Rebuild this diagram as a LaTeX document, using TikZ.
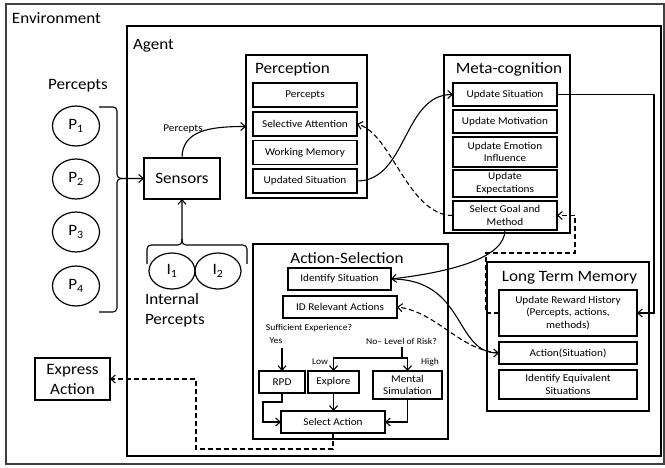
\documentclass[tikz,border=0pt]{standalone}
\usepackage{fontspec}
\setmainfont{Carlito}[FakeStretch=1.08]
\usetikzlibrary{arrows.meta,shapes.geometric,calc}

\begin{document}
\begin{tikzpicture}[x=1pt,y=-1pt,
  >={Straight Barb[length=4.5pt,width=8pt]},
  every node/.style={inner sep=0pt, outer sep=0pt},
  sz/.style 2 args={minimum width=#1, minimum height=#2},
  frame/.style={draw, rectangle, line width=1.2pt},
  big/.style={font=\fontsize{15.8}{20}\selectfont},
  item/.style={draw, rectangle, line width=1.1pt, align=center, font=\fontsize{10.4}{12.8}\selectfont},
  small/.style={font=\fontsize{8.9}{10.5}\selectfont},
  link/.style={line width=1.1pt, ->},
  plain/.style={line width=1.1pt},
  dlink/.style={line width=1.1pt, ->, dash pattern=on 5pt off 3pt},
  percept/.style={draw, ellipse, line width=1.2pt, big},
]
\useasboundingbox (0,0) rectangle (665,468);

% environment and agent frames
\node[frame, draw=black!75, line width=1.3pt, sz={658}{460}] (env) at (335,234) {};
\node[big, anchor=west] (envlbl) at (12,18) {Environment};
\node[frame, line width=2pt, sz={534}{430}] (agent) at (394,241) {};
\node[big, anchor=west] (agentlbl) at (133,46) {Agent};

% external percepts
\node[big] (plbl) at (78,86) {Percepts};
\node[percept, sz={47}{40}] (p1) at (76,126) {P\textsubscript{1}};
\node[percept, sz={47}{40}] (p2) at (76,179) {P\textsubscript{2}};
\node[percept, sz={47}{40}] (p3) at (76,232) {P\textsubscript{3}};
\node[percept, sz={47}{40}] (p4) at (76,286) {P\textsubscript{4}};

% sensors
\node[frame, big, sz={76}{41}] (sens) at (182,178.5) {Sensors};

% internal percepts
\node[percept, sz={46}{36}] (i1) at (172,271) {I\textsubscript{1}};
\node[percept, sz={46}{36}] (i2) at (218,271) {I\textsubscript{2}};
\node[big, anchor=north west, align=left] (ilbl) at (145,294) {Internal\\Percepts};

% output
\node[frame, big, align=center, sz={75}{42}] (expr) at (72.5,379) {Express\\Action};

% perception module
\node[frame, sz={121}{143}] (perc) at (306.5,126.5) {};
\node[big] (perct) at (292.5,69) {Perception};
\node[item, sz={104}{24}] (pp) at (305,95) {Percepts};
\node[item, sz={104}{24}] (psa) at (305,124) {Selective Attention};
\node[item, sz={104}{24}] (pwm) at (305,152.5) {Working Memory};
\node[item, sz={104}{24}] (pus) at (305,181) {Updated Situation};

% meta-cognition module
\node[frame, sz={126}{178}] (meta) at (507,144) {};
\node[big] (metat) at (509,69) {Meta-cognition};
\node[item, sz={104}{23}] (mus) at (505,94.5) {Update Situation};
\node[item, sz={104}{23}] (mum) at (505,121.5) {Update Motivation};
\node[item, sz={104}{30}] (mue) at (505,152) {Update Emotion\\Influence};
\node[item, sz={104}{27}] (mux) at (505,183.5) {Update\\Expectations};
\node[item, sz={104}{29}] (msg) at (505,215.5) {Select Goal and\\Method};

% long term memory
\node[frame, sz={162}{149}] (ltm) at (568,336.5) {};
\node[big] (ltmt) at (569.5,278) {Long Term Memory};
\node[item, sz={138}{46}] (urh) at (568,313) {Update Reward History\\(Percepts, actions,\\methods)};
\node[item, sz={138}{22}] (asit) at (568,353) {Action(Situation)};
\node[item, sz={138}{29}] (ies) at (568,384.5) {Identify Equivalent\\Situations};

% action selection module
\node[frame, sz={195}{195}] (asel) at (350.5,341.5) {};
\node[big] (aselt) at (347,258) {Action-Selection};
\node[item, sz={103}{22}] (isit) at (339.5,279) {Identify Situation};
\node[item, sz={114}{22}] (idra) at (340,307) {ID Relevant Actions};
\node[small] (sufexp) at (309,328) {Sufficient Experience?};
\node[small] (yes) at (276,341) {Yes};
\node[small] (risk) at (401.5,341) {No\textendash{} Level of Risk?};
\node[small] (low) at (320,362) {Low};
\node[small] (high) at (430,362) {High};
\node[item, sz={46}{22}] (rpd) at (282,382) {RPD};
\node[item, sz={51}{22}] (expl) at (333.5,382) {Explore};
\node[item, sz={69}{28}] (ms) at (407.5,385) {Mental\\Simulation};
\node[item, sz={104}{22}] (sa) at (333,422) {Select Action};

% braces gathering the percepts
\coordinate (pbTop) at (99,107);
\coordinate (pbBot) at (99,312);
\coordinate (pbTip) at (117,178.5);
\draw[link, rounded corners=4pt] (pbTop) -| (pbTip) -- (sens.west);
\draw[plain, rounded corners=4pt] (pbBot) -| (pbTip) -- ++(6,0);
\coordinate (ibL) at (147,264);
\coordinate (ibR) at (247,264);
\coordinate (ibTip) at (182,245);
\draw[link, rounded corners=4pt] (ibL) |- (ibTip) -- (sens.south);
\draw[plain, rounded corners=4pt] (ibR) |- (ibTip) -- ++(0,-6);

% sensors to perception
\draw[link] (sens.north) .. controls +(0,-28) and +(-35,0) .. (perc.west);
\node[font=\fontsize{10.4}{12}\selectfont] (parrlbl) at (183,129) {Percepts};

% perception <-> meta-cognition
\draw[link] (pus.east) .. controls +(50,0) and +(-50,0) .. (mus.west);
\draw[dlink] (msg.west) .. controls +(-45,0) and +(35,10) .. (psa.east);

% meta-cognition to action selection and memory
\draw[link] (msg.south) .. controls +(0,28) and +(60,-7) .. (isit.east);
\draw[link] (isit.east) .. controls +(75,0) and +(-45,0) .. (asit.west);
\draw[dlink] (asit.west) .. controls +(-40,-3) and +(40,5) .. (idra.east);
\coordinate (rail) at (654,0);
\draw[link] (mus.east) -| (rail |- urh.east) -- (urh.east);
\coordinate (dA) at (486,253);
\coordinate (dB) at (575,253);
\draw[dlink] (urh.west) -| (dA) -- (dB) |- (msg.east);

% decision flow inside action selection
\coordinate (yesT) at (282,348);
\draw[link] (yesT) -- (rpd.north);
\coordinate (riskT) at (402,347);
\coordinate (riskJ) at (402,358);
\draw[plain] (riskT) -- (riskJ);
\draw[link] (riskJ) -| (expl.north);
\draw[link] (riskJ) -| (ms.north);
\draw[link] (expl.south) -- (expl.south |- sa.north);
\draw[link] (rpd.south) -- ++(0,9) -- ++(-19,0) |- (sa.west);
\draw[link] (ms.south) |- (sa.east);

% action output
\coordinate (exA) at (196,449);
\draw[dlink] (sa.south) |- (exA) |- (expr.east);
\end{tikzpicture}
\end{document}
